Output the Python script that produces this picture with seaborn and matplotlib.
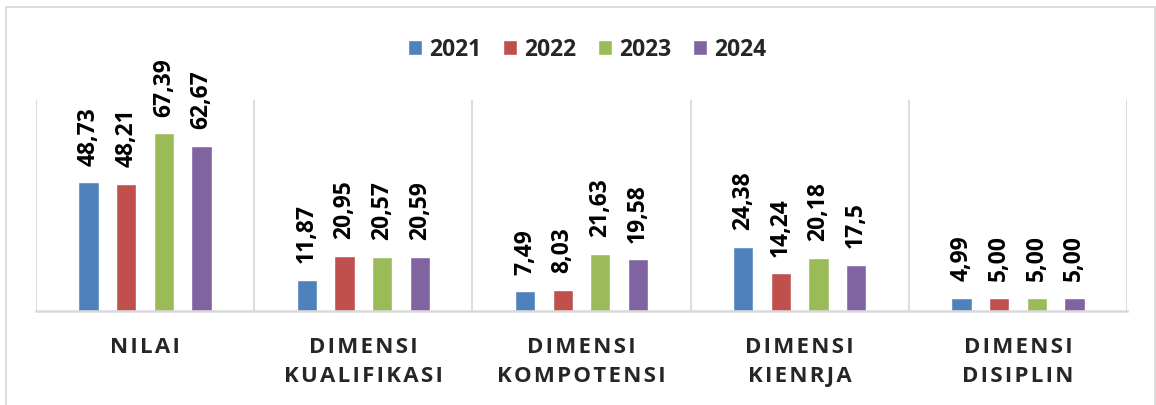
import matplotlib
matplotlib.use("Agg")
import matplotlib.pyplot as plt
import seaborn as sns
import pandas as pd
from matplotlib.patches import Rectangle

categories = ["NILAI", "DIMENSI\nKUALIFIKASI", "DIMENSI\nKOMPOTENSI", "DIMENSI\nKIENRJA", "DIMENSI\nDISIPLIN"]
years = ["2021", "2022", "2023", "2024"]
v2021 = [48.73, 11.87, 7.49, 24.38, 4.99]
v2022 = [48.21, 20.95, 8.03, 14.24, 5.00]
v2023 = [67.39, 20.57, 21.63, 20.18, 5.00]
v2024 = [62.67, 20.59, 19.58, 17.5, 5.00]
labels2021 = ["48,73", "11,87", "7,49", "24,38", "4,99"]
labels2022 = ["48,21", "20,95", "8,03", "14,24", "5,00"]
labels2023 = ["67,39", "20,57", "21,63", "20,18", "5,00"]
labels2024 = ["62,67", "20,59", "19,58", "17,5", "5,00"]
colors = ["#4F81BD", "#C0504D", "#9BBB59", "#8064A2"]

series = [v2021, v2022, v2023, v2024]
series_labels = [labels2021, labels2022, labels2023, labels2024]
rows = []
for y, vals in zip(years, series):
    for c, v in zip(categories, vals):
        rows.append({"cat": c, "year": y, "val": v})
df = pd.DataFrame(rows)

sns.set_style("white")
plt.rcParams["font.family"] = ["Open Sans", "DejaVu Sans"]

fig = plt.figure(figsize=(11.56, 4.05), dpi=100)
ax = fig.add_axes([36 / 1156, 1 - 311 / 405, (1127 - 36) / 1156, (311 - 100) / 405])

sns.barplot(data=df, x="cat", y="val", hue="year", palette=colors, order=categories,
            hue_order=years, width=0.69, gap=0.46, ax=ax, legend=True, saturation=1)

ax.set_ylim(0, 80)
ax.set_xlim(-0.5, len(categories) - 0.5)
grid_c = "#D9D9D9"
for b in [i - 0.5 for i in range(len(categories) + 1)]:
    ax.axvline(b, color=grid_c, lw=1.3, zorder=0)
for s in ["top", "right", "left"]:
    ax.spines[s].set_visible(False)
ax.spines["bottom"].set_color(grid_c)
ax.spines["bottom"].set_linewidth(1.8)
ax.set_yticks([])
ax.set_xlabel("")
ax.set_ylabel("")

# value labels
for cont, labs in zip(ax.containers, series_labels):
    for rect, lab in zip(cont, labs):
        ax.annotate(lab, (rect.get_x() + rect.get_width() / 2, rect.get_height()),
                    xytext=(0, 12), textcoords="offset points", rotation=90,
                    ha="center", va="bottom", fontsize=16.5, fontweight="bold", color="black")

# category tick labels with letter spacing
sp = "\u200a"
tick_labels = ["\n".join(sp.join(line) for line in c.split("\n")) for c in categories]
ax.set_xticks(range(len(categories)))
ax.set_xticklabels(tick_labels, fontsize=16, fontweight="bold", linespacing=1.5)
ax.tick_params(axis="x", length=0, pad=19)

# legend
leg = ax.legend(loc="upper center", bbox_to_anchor=(0.508, 1 - 17 / 405), bbox_transform=fig.transFigure,
                ncol=4, frameon=False, prop={"weight": "bold", "size": 16.5},
                handlelength=0.62, handleheight=0.62, handletextpad=0.3, columnspacing=0.95)

# outer border
fig.patches.append(Rectangle((6 / 1156, -0.05), (1155 - 6) / 1156, 1 - 7 / 405 + 0.05,
                             transform=fig.transFigure, fill=False, edgecolor=grid_c, lw=1.3))

fig.savefig("out.png", dpi=100)
